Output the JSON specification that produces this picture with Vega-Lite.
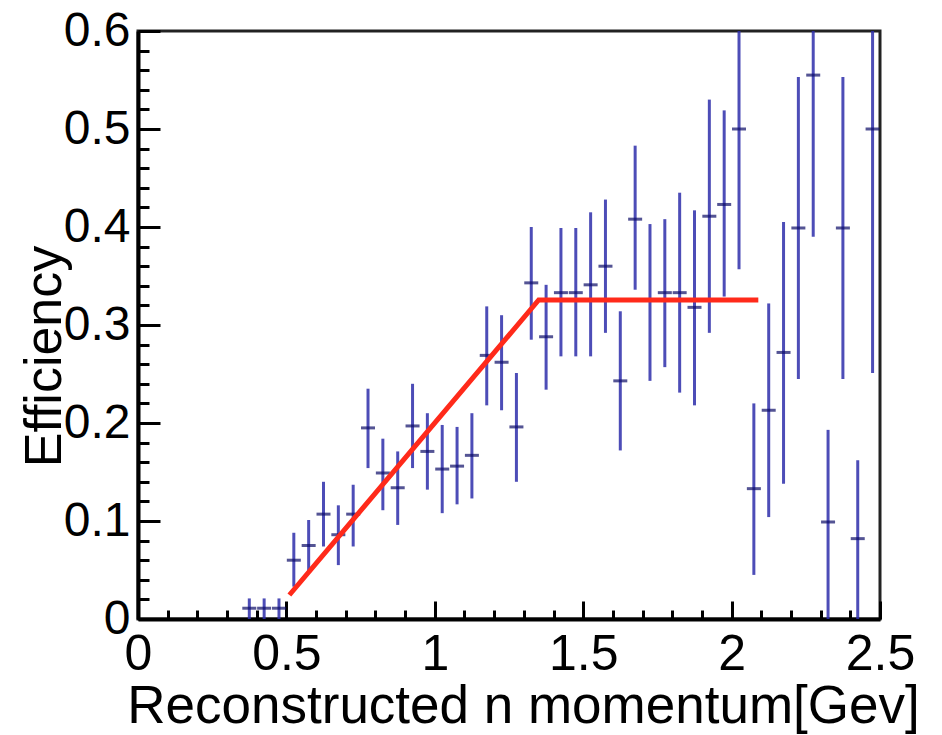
{
  "$schema": "https://vega.github.io/schema/vega-lite/v6.json",
  "width": 742,
  "height": 588,
  "autosize": "none",
  "padding": {"left": 138, "top": 31, "right": 62, "bottom": 116},
  "background": "white",
  "config": {
    "view": {"stroke": "#222222", "strokeWidth": 3},
    "font": "Liberation Sans",
    "axis": {"labelOverlap": false, "labelFlush": false, "grid": false, "ticks": true}
  },
  "datasets": {
    "pts": [
      {"p": 0.375, "eff": 0.011, "lo": 0.0, "hi": 0.021},
      {"p": 0.425, "eff": 0.011, "lo": 0.0, "hi": 0.021},
      {"p": 0.475, "eff": 0.011, "lo": 0.0, "hi": 0.021},
      {"p": 0.525, "eff": 0.060, "lo": 0.033, "hi": 0.088},
      {"p": 0.575, "eff": 0.075, "lo": 0.047, "hi": 0.101},
      {"p": 0.625, "eff": 0.107, "lo": 0.074, "hi": 0.140},
      {"p": 0.675, "eff": 0.086, "lo": 0.055, "hi": 0.116},
      {"p": 0.725, "eff": 0.107, "lo": 0.074, "hi": 0.137},
      {"p": 0.775, "eff": 0.195, "lo": 0.154, "hi": 0.235},
      {"p": 0.825, "eff": 0.149, "lo": 0.111, "hi": 0.184},
      {"p": 0.875, "eff": 0.134, "lo": 0.096, "hi": 0.171},
      {"p": 0.925, "eff": 0.197, "lo": 0.154, "hi": 0.240},
      {"p": 0.975, "eff": 0.171, "lo": 0.132, "hi": 0.210},
      {"p": 1.025, "eff": 0.153, "lo": 0.108, "hi": 0.198},
      {"p": 1.075, "eff": 0.156, "lo": 0.117, "hi": 0.196},
      {"p": 1.125, "eff": 0.167, "lo": 0.123, "hi": 0.210},
      {"p": 1.175, "eff": 0.269, "lo": 0.218, "hi": 0.319},
      {"p": 1.225, "eff": 0.262, "lo": 0.213, "hi": 0.310},
      {"p": 1.275, "eff": 0.196, "lo": 0.140, "hi": 0.251},
      {"p": 1.325, "eff": 0.343, "lo": 0.285, "hi": 0.400},
      {"p": 1.375, "eff": 0.288, "lo": 0.234, "hi": 0.341},
      {"p": 1.425, "eff": 0.333, "lo": 0.268, "hi": 0.399},
      {"p": 1.475, "eff": 0.333, "lo": 0.268, "hi": 0.399},
      {"p": 1.525, "eff": 0.341, "lo": 0.268, "hi": 0.415},
      {"p": 1.575, "eff": 0.360, "lo": 0.292, "hi": 0.428},
      {"p": 1.625, "eff": 0.243, "lo": 0.172, "hi": 0.314},
      {"p": 1.675, "eff": 0.408, "lo": 0.336, "hi": 0.483},
      {"p": 1.725, "eff": 0.325, "lo": 0.243, "hi": 0.403},
      {"p": 1.775, "eff": 0.333, "lo": 0.257, "hi": 0.408},
      {"p": 1.825, "eff": 0.333, "lo": 0.231, "hi": 0.435},
      {"p": 1.875, "eff": 0.318, "lo": 0.218, "hi": 0.417},
      {"p": 1.925, "eff": 0.411, "lo": 0.292, "hi": 0.530},
      {"p": 1.975, "eff": 0.423, "lo": 0.329, "hi": 0.519},
      {"p": 2.025, "eff": 0.500, "lo": 0.357, "hi": 0.643},
      {"p": 2.075, "eff": 0.133, "lo": 0.045, "hi": 0.220},
      {"p": 2.125, "eff": 0.213, "lo": 0.104, "hi": 0.322},
      {"p": 2.175, "eff": 0.272, "lo": 0.138, "hi": 0.405},
      {"p": 2.225, "eff": 0.399, "lo": 0.245, "hi": 0.553},
      {"p": 2.275, "eff": 0.555, "lo": 0.390, "hi": 0.720},
      {"p": 2.325, "eff": 0.099, "lo": 0.0, "hi": 0.193},
      {"p": 2.375, "eff": 0.399, "lo": 0.245, "hi": 0.553},
      {"p": 2.425, "eff": 0.082, "lo": 0.0, "hi": 0.162},
      {"p": 2.475, "eff": 0.500, "lo": 0.251, "hi": 0.749}
    ],
    "fit": [
      {"p": 0.51, "v": 0.0245},
      {"p": 1.35, "v": 0.3255},
      {"p": 2.09, "v": 0.3255}
    ]
  },
  "layer": [
    {
      "data": {"name": "pts"},
      "mark": {"type": "rule", "color": "#2e2eaa", "strokeWidth": 3, "opacity": 0.85, "clip": true},
      "encoding": {
        "x": {
          "field": "p", "type": "quantitative",
          "scale": {"domain": [0, 2.5], "nice": false, "zero": false},
          "axis": {
            "title": "Reconstructed n momentum[Gev]",
            "values": [0, 0.1, 0.2, 0.3, 0.4, 0.5, 0.6, 0.7, 0.8, 0.9, 1, 1.1, 1.2, 1.3, 1.4, 1.5, 1.6, 1.7, 1.8, 1.9, 2, 2.1, 2.2, 2.3, 2.4, 2.5],
            "tickCount": 200,
            "format": "~g",
            "labelExpr": "round(datum.value*10) % 5 == 0 ? datum.label : ''",
            "ticks": true,
            "tickSize": {"condition": {"test": "round(datum.value*10) % 5 == 0", "value": -18}, "value": -9},
            "tickColor": "#000000",
            "tickWidth": 3,
            "domainColor": "#000000",
            "domainWidth": 4,
            "grid": false,
            "labelFont": "Liberation Sans",
            "labelFontSize": 50,
            "labelColor": "#000000",
            "labelPadding": 28,
            "labelOverlap": false,
            "labelFlush": false,
            "titleFont": "Liberation Sans",
            "titleFontSize": 53,
            "titleFontWeight": "normal",
            "titleColor": "#000000",
            "titleX": 385,
            "titleY": 103,
            "titleBaseline": "alphabetic",
            "titleAlign": "center"
          }
        },
        "y": {
          "field": "lo", "type": "quantitative",
          "scale": {"domain": [0, 0.6], "nice": false, "zero": false},
          "axis": {
            "title": "Efficiency",
            "values": [0, 0.02, 0.04, 0.06, 0.08, 0.1, 0.12, 0.14, 0.16, 0.18, 0.2, 0.22, 0.24, 0.26, 0.28, 0.3, 0.32, 0.34, 0.36, 0.38, 0.4, 0.42, 0.44, 0.46, 0.48, 0.5, 0.52, 0.54, 0.56, 0.58, 0.6],
            "tickCount": 200,
            "format": "~g",
            "labelExpr": "round(datum.value*50) % 5 == 0 ? datum.label : ''",
            "ticks": true,
            "tickSize": {"condition": {"test": "round(datum.value*50) % 5 == 0", "value": -22}, "value": -11},
            "tickColor": "#000000",
            "tickWidth": 3,
            "domainColor": "#000000",
            "domainWidth": 4,
            "grid": false,
            "labelFont": "Liberation Sans",
            "labelFontSize": 48,
            "labelColor": "#000000",
            "labelPadding": 30,
            "labelOverlap": false,
            "labelFlush": false,
            "titleFont": "Liberation Sans",
            "titleFontSize": 52,
            "titleFontWeight": "normal",
            "titleColor": "#000000",
            "titleX": -78,
            "titleY": 325,
            "titleBaseline": "alphabetic",
            "titleAlign": "center",
            "titleAngle": -90
          }
        },
        "y2": {"field": "hi"}
      }
    },
    {
      "data": {"name": "pts"},
      "mark": {"type": "tick", "orient": "horizontal", "color": "#0c0c66", "size": 14, "thickness": 3, "clip": true},
      "encoding": {
        "x": {"field": "p", "type": "quantitative"},
        "y": {"field": "eff", "type": "quantitative"}
      }
    },
    {
      "data": {"name": "fit"},
      "mark": {"type": "line", "color": "#ff2a1a", "strokeWidth": 5, "clip": true},
      "encoding": {
        "x": {"field": "p", "type": "quantitative"},
        "y": {"field": "v", "type": "quantitative"}
      }
    }
  ]
}
